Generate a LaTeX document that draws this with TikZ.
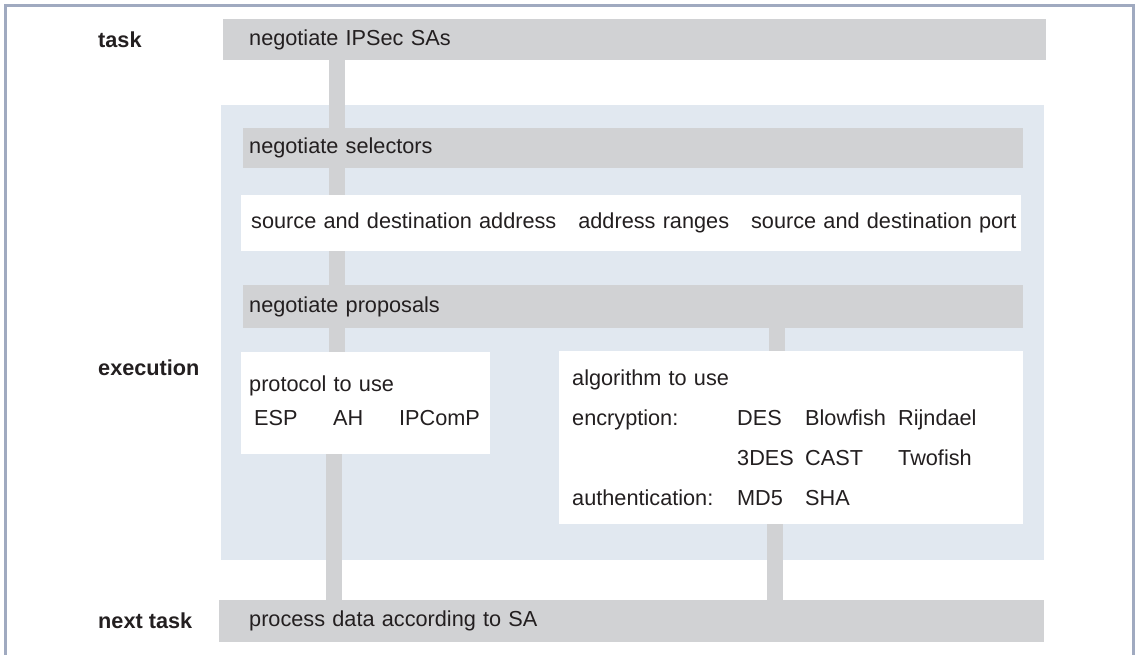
\documentclass[tikz,border=0pt]{standalone}
\usepackage{fontspec}
\setmainfont{Liberation Sans}
\usetikzlibrary{calc}
\definecolor{bargray}{HTML}{D1D2D4}
\definecolor{regionblue}{HTML}{E1E8F0}
\definecolor{framecol}{HTML}{A0AAC0}
\definecolor{txt}{HTML}{231F20}
\begin{document}
\begin{tikzpicture}[x=1pt,y=-1pt,
  font=\fontsize{21.7}{26}\selectfont, text=txt,
  bar/.style={fill=bargray, draw=none, anchor=north west, inner ysep=0pt, align=left},
  wbox/.style={fill=white, draw=none, anchor=north west, inner ysep=0pt, align=left},
  lab/.style={anchor=west, inner sep=0pt, font=\fontsize{21.7}{26}\selectfont\bfseries},
  conn/.style={draw=bargray, line width=16pt, line cap=butt}]
\useasboundingbox (0,0) rectangle (1137,655);
% frame
\draw[framecol, line width=2.5pt] (5.5,655) -- (5.5,5.5) -- (1133.5,5.5) -- (1133.5,655);
% execution region
\node[fill=regionblue, anchor=north west, minimum width=823pt, minimum height=455pt, inner sep=0pt] (region) at (221,105) {};
% labels
\node[lab] (ltask) at (98,39.5) {task};
\node[lab] (lexec) at (98,368) {execution};
\node[lab] (lnext) at (98,621) {next task};
% bars and boxes
\node[bar, inner xsep=26pt, text width=771pt, minimum height=41pt] (top) at (223,19) {negotiate IPSec SAs};
\node[bar, inner xsep=6pt, text width=768pt, minimum height=40pt] (sel) at (243,128) {negotiate selectors};
\node[wbox, inner xsep=10pt, text width=760pt, minimum height=56pt] (selbox) at (241,195)
  {\makebox[760pt][l]{source and destination address\hspace{22pt}address ranges\hspace{22pt}source and destination port}};
\node[bar, inner xsep=6pt, text width=768pt, minimum height=43pt] (prop) at (243,285) {negotiate proposals};
\node[wbox, inner xsep=8pt, text width=233pt, minimum height=102pt] (proto) at (241,352)
  {protocol to use\\[8pt]\hspace*{5pt}\makebox[79pt][l]{ESP}\makebox[66pt][l]{AH}IPComP\\[-20pt]\mbox{}};
\node[wbox, inner xsep=13pt, text width=438pt, minimum height=173pt] (algo) at (559,351)
  {algorithm to use\\[14pt]
   \makebox[165pt][l]{encryption:}\makebox[68pt][l]{DES}\makebox[93pt][l]{Blowfish}Rijndael\\[14pt]
   \hspace*{165pt}\makebox[68pt][l]{3DES}\makebox[93pt][l]{CAST}Twofish\\[14pt]
   \makebox[165pt][l]{authentication:}\makebox[68pt][l]{MD5}SHA};
\node[bar, inner xsep=30pt, text width=765pt, minimum height=42pt] (next) at (219,600) {process data according to SA};
% connector columns
\coordinate (xl) at (337,0);
\coordinate (xlb) at (334,0);
\coordinate (xr) at (777,0);
\coordinate (xrb) at (775,0);
\draw[conn] (top.south -| xl) -- (sel.north -| xl);
\draw[conn] (sel.south -| xl) -- (selbox.north -| xl);
\draw[conn] (selbox.south -| xl) -- (prop.north -| xl);
\draw[conn] (prop.south -| xl) -- (proto.north -| xl);
\draw[conn] (proto.south -| xlb) -- (next.north -| xlb);
\draw[conn] (prop.south -| xr) -- (algo.north -| xr);
\draw[conn] (algo.south -| xrb) -- (next.north -| xrb);
\end{tikzpicture}
\end{document}
